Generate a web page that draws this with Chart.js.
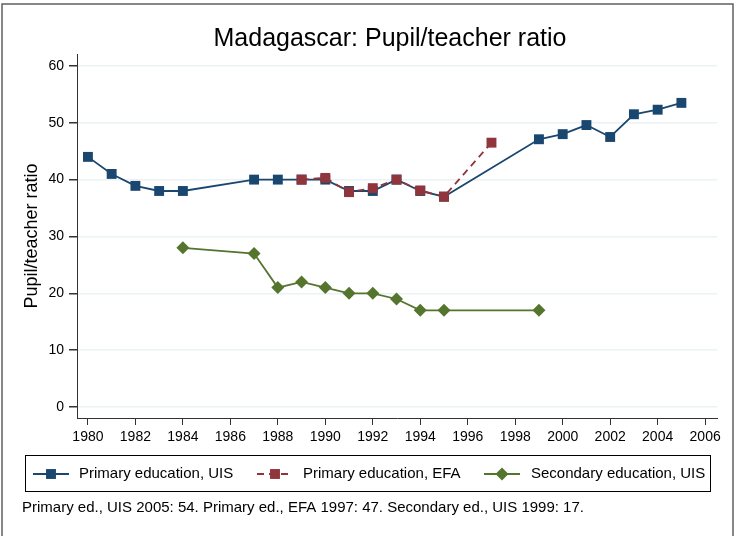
<!DOCTYPE html>
<html>
<head>
<meta charset="utf-8">
<script src="https://cdn.jsdelivr.net/npm/chart.js@4"></script>
<style>
  body { margin: 0; background: #fff; }
  #wrap { width: 736px; height: 536px; }
</style>
</head>
<body>
<div id="wrap"><canvas id="ratioChart" width="736" height="536"></canvas></div>
<script>
// values
const primaryUisYears = [1980, 1981, 1982, 1983, 1984, 1987, 1988, 1989, 1990, 1991, 1992, 1993, 1994, 1995, 1999, 2000, 2001, 2002, 2003, 2004, 2005];
const primaryUisValues = [44, 41, 38.9, 38, 38, 40, 40, 40, 40, 38, 38, 40, 38, 37, 47.1, 48, 49.6, 47.5, 51.5, 52.3, 53.5];
const primaryEfaYears = [1989, 1990, 1991, 1992, 1993, 1994, 1995, 1997];
const primaryEfaValues = [40, 40.3, 37.8, 38.5, 40, 38.1, 37, 46.5];
const secondaryUisYears = [1984, 1987, 1988, 1989, 1990, 1991, 1992, 1993, 1994, 1995, 1999];
const secondaryUisValues = [28, 27, 21, 22, 21, 20, 20, 19, 17, 17, 17];
const xTicks = [1980, 1982, 1984, 1986, 1988, 1990, 1992, 1994, 1996, 1998, 2000, 2002, 2004, 2006];
const yTicks = [0, 10, 20, 30, 40, 50, 60];
const seriesNames = ['Primary education, UIS', 'Primary education, EFA', 'Secondary education, UIS'];
const chartTitle = 'Madagascar: Pupil/teacher ratio';
const footnote = 'Primary ed., UIS 2005: 54. Primary ed., EFA 1997: 47. Secondary ed., UIS 1999: 17.';

const font = '"Liberation Sans", Arial, Helvetica, sans-serif';
Chart.defaults.font.family = font;
Chart.defaults.color = '#000';

function toPoints(xs, ys) {
  return xs.map((x, i) => ({ x: x, y: ys[i] }));
}

// title over the plot region, legend box, footnote and outer frame
const extrasPlugin = {
  id: 'extras',
  afterDraw(chart) {
    const ctx = chart.ctx;
    const area = chart.chartArea;
    ctx.save();
    ctx.strokeStyle = '#606060';
    ctx.lineWidth = 1.5;
    ctx.strokeRect(2, 4, 731, 545);

    ctx.fillStyle = '#000';
    ctx.font = '25px ' + font;
    ctx.textAlign = 'center';
    ctx.textBaseline = 'middle';
    ctx.fillText(chartTitle, (area.left + area.right) / 2 - 7, 39);
    ctx.textAlign = 'left';

    ctx.strokeStyle = '#000';
    ctx.lineWidth = 1;
    ctx.strokeRect(25.5, 455.5, 685, 36);

    const starts = [33, 257, 484];
    const textX = [79, 303, 531];
    const ly = 474;
    chart.data.datasets.forEach((ds, i) => {
      ctx.strokeStyle = ds.borderColor;
      ctx.lineWidth = ds.borderWidth;
      ctx.setLineDash(ds.borderDash || []);
      ctx.beginPath();
      ctx.moveTo(starts[i], ly);
      ctx.lineTo(starts[i] + 36, ly);
      ctx.stroke();
      ctx.setLineDash([]);
      ctx.fillStyle = ds.borderColor;
      Chart.helpers.drawPoint(ctx, {
        pointStyle: ds.pointStyle, radius: ds.pointRadius, borderWidth: 0, rotation: 0
      }, starts[i] + 18, ly);
      ctx.fillStyle = '#000';
      ctx.font = '15px ' + font;
      ctx.textBaseline = 'middle';
      ctx.fillText(ds.label, textX[i], ly);
    });

    ctx.fillText(footnote, 22, 508);
    ctx.restore();
  }
};

new Chart(document.getElementById('ratioChart'), {
  type: 'line',
  data: {
    datasets: [
      {
        label: seriesNames[0],
        data: toPoints(primaryUisYears, primaryUisValues),
        borderColor: '#1a476f',
        backgroundColor: '#1a476f',
        borderWidth: 1.8,
        pointStyle: 'rect',
        pointRadius: 7,
        pointBorderWidth: 0,
        order: 2
      },
      {
        label: seriesNames[1],
        data: toPoints(primaryEfaYears, primaryEfaValues),
        borderColor: '#90353b',
        backgroundColor: '#90353b',
        borderWidth: 1.8,
        borderDash: [7, 5],
        pointStyle: 'rect',
        pointRadius: 7,
        pointBorderWidth: 0,
        order: 1
      },
      {
        label: seriesNames[2],
        data: toPoints(secondaryUisYears, secondaryUisValues),
        borderColor: '#55752f',
        backgroundColor: '#55752f',
        borderWidth: 1.8,
        pointStyle: 'rectRot',
        pointRadius: 6.5,
        pointBorderWidth: 0,
        order: 0
      }
    ]
  },
  options: {
    responsive: false,
    animation: false,
    layout: { padding: { left: 0, right: 19, top: 54, bottom: 88 } },
    plugins: {
      legend: { display: false },
      tooltip: { enabled: false },
      title: { display: false }
    },
    scales: {
      x: {
        type: 'linear',
        min: 1979.54,
        max: 2006.5,
        afterBuildTicks: scale => { scale.ticks = xTicks.map(v => ({ value: v })); },
        afterFit: scale => { scale.height = 30; },
        ticks: { font: { size: 14 }, padding: 4, maxRotation: 0, callback: v => String(v) },
        grid: { drawOnChartArea: false, tickLength: 7, tickColor: '#333' },
        border: { color: '#333', width: 1 }
      },
      y: {
        min: -1.94,
        max: 62.1,
        afterBuildTicks: scale => { scale.ticks = yTicks.map(v => ({ value: v })); },
        afterFit: scale => { scale.width = 77; },
        ticks: { font: { size: 14 }, padding: 5, callback: v => String(v) },
        grid: { color: '#eaf2f3', lineWidth: 1.5, tickLength: 8, tickColor: '#333' },
        border: { color: '#333', width: 1 },
        title: {
          display: true,
          text: 'Pupil/teacher ratio',
          font: { size: 18 },
          padding: { top: 21, bottom: 0 }
        }
      }
    }
  },
  plugins: [extrasPlugin]
});
</script>
</body>
</html>
